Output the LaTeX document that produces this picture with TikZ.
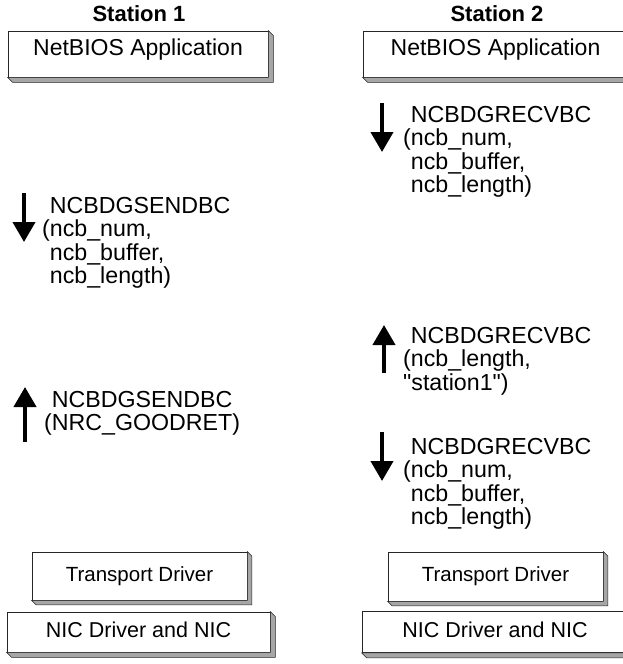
\documentclass[tikz,border=0pt]{standalone}
\usepackage{fontspec}
\setmainfont{Liberation Sans}
\usetikzlibrary{arrows.meta}

% A protocol layer drawn as a raised slab: white face, grey bevel right and below.
% #1 name, #2 centre, #3 width, #4 height, #5 bevel depth, #6 baseline drop, #7 font size, #8 text
\newcommand\stackbox[8]{%
  \node[layer, minimum width=#3, minimum height=#4, text height=#6,
        font=\fontsize{#7}{#7}\selectfont] (#1) at (#2) {#8};
  \draw[bevel] (#1.north east) -- ++(#5,#5)
    -- ([shift={(#5,#5)}]#1.south east)
    -- ([shift={(#5,#5)}]#1.south west)
    -- (#1.south west) -- (#1.south east) -- cycle;
}

\begin{document}
\begin{tikzpicture}[x=1pt, y=-1pt,
  layer/.style={draw=black!85, line width=0.8pt, fill=white, inner sep=0pt, text depth=0pt},
  bevel/.style={draw=black!85, line width=0.6pt, fill=gray!70},
  title/.style={font=\fontsize{22}{24}\selectfont\bfseries, anchor=base, inner sep=0pt},
  % call labels are placed by the baseline of their last line
  call/.style={font=\fontsize{23.2}{23.5}\selectfont, align=left, anchor=base west, inner sep=0pt},
  flow/.style={line width=4pt, -{Triangle[width=22pt,length=20pt]}}]

\useasboundingbox (0,0) rectangle (622,664);

% station headings
\node[title] (st1) at (139,21) {Station 1};
\node[title] (st2) at (497,21) {Station 2};

% protocol layers (the right-hand application and NIC slabs run past the edge)
\stackbox{app1}{138,54}{260pt}{46pt}{5}{3pt}{23}{NetBIOS Application}
\stackbox{app2}{495.5,54}{265pt}{46pt}{5}{3pt}{23}{NetBIOS Application}
\stackbox{tdi1}{139.5,576}{215pt}{48pt}{4.5}{10pt}{20.5}{Transport Driver}
\stackbox{tdi2}{495.5,576.5}{215pt}{49pt}{4.5}{10pt}{20.5}{Transport Driver}
\stackbox{nic1}{138.5,632}{263pt}{40pt}{5}{10pt}{21.5}{NIC Driver and NIC}
\stackbox{nic2}{495,632}{266pt}{41pt}{5}{10pt}{21.5}{NIC Driver and NIC}

% call directions
\coordinate (a1s) at (24,193);  \coordinate (a1e) at (24,242);
\coordinate (a2s) at (25,442);  \coordinate (a2e) at (25,387);
\coordinate (b1s) at (382,103); \coordinate (b1e) at (382,152);
\coordinate (b2s) at (384,373); \coordinate (b2e) at (384,325);
\coordinate (b3s) at (382,432); \coordinate (b3e) at (382,481);
\draw[flow] (a1s) -- (a1e);
\draw[flow] (a2s) -- (a2e);
\draw[flow] (b1s) -- (b1e);
\draw[flow] (b2s) -- (b2e);
\draw[flow] (b3s) -- (b3e);

% NetBIOS calls and their parameters
\node[call] (send1) at (42,283.5) {\hphantom{(}NCBDGSENDBC\\(ncb\_num,\\\hphantom{(}ncb\_buffer,\\\hphantom{(}ncb\_length)};
\node[call] (send2) at (44,430.5) {\hphantom{(}NCBDGSENDBC\\(NRC\_GOODRET)};
\node[call] (recv1) at (403,192.5) {\hphantom{(}NCBDGRECVBC\\(ncb\_num,\\\hphantom{(}ncb\_buffer,\\\hphantom{(}ncb\_length)};
\node[call] (recv2) at (403,390) {\hphantom{(}NCBDGRECVBC\\(ncb\_length,\\\textquotedbl station1\textquotedbl)};
\node[call] (recv3) at (403,524.5) {\hphantom{(}NCBDGRECVBC\\(ncb\_num,\\\hphantom{(}ncb\_buffer,\\\hphantom{(}ncb\_length)};
\end{tikzpicture}
\end{document}
